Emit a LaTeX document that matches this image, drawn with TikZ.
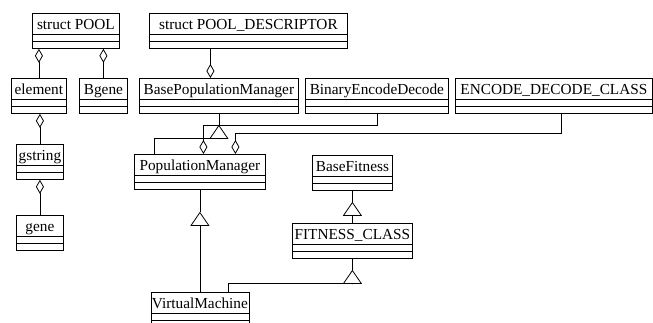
\documentclass[tikz,border=0pt]{standalone}
\usepackage{fontspec}
\setmainfont{Liberation Serif}
\usetikzlibrary{arrows.meta}
\begin{document}
\begin{tikzpicture}[x=1pt,y=-1pt,
  cls/.style={draw, line width=0.8pt, rectangle, inner sep=0pt, anchor=north west,
    minimum width=#1, text height=16pt, text depth=19pt,
    font=\fontsize{15.3}{17}\selectfont,
    path picture={
      \draw[line width=0.8pt] ([yshift=-21pt]path picture bounding box.north west) -- ([yshift=-21pt]path picture bounding box.north east);
      \draw[line width=0.8pt] ([yshift=-28pt]path picture bounding box.north west) -- ([yshift=-28pt]path picture bounding box.north east);}},
  agg/.style={line width=0.8pt, -{Diamond[open, length=14pt, width=8pt]}},
  gen/.style={line width=0.8pt, -{Triangle[open, length=14pt, width=19pt]}},
  link/.style={line width=0.8pt}]
\useasboundingbox (0,0) rectangle (653,322);

% classes
\node[cls=87pt]  (pool)     at (32,13)    {struct POOL};
\node[cls=55pt]  (element)  at (11,78)    {element};
\node[cls=48pt]  (bgene)    at (79,78)    {Bgene};
\node[cls=47pt]  (gstring)  at (16,144)   {gstring};
\node[cls=47pt]  (gene)     at (16,215)   {gene};
\node[cls=198pt] (pooldesc) at (149,13)   {struct POOL\_DESCRIPTOR};
\node[cls=159pt] (bpm)      at (139,78)   {BasePopulationManager};
\node[cls=143pt] (bed)      at (305,78)   {BinaryEncodeDecode};
\node[cls=197pt] (edc)      at (455,78)   {ENCODE\_DECODE\_CLASS};
\node[cls=131pt] (pm)       at (134,154)  {PopulationManager};
\node[cls=80pt]  (bf)       at (312,155)  {BaseFitness};
\node[cls=120pt] (fc)       at (292,223)  {FITNESS\_CLASS};
\node[cls=98pt]  (vm)       at (150.5,292){VirtualMachine};

% aggregations
\draw[agg] (element.north) -- (element.north |- pool.south);
\draw[agg] (bgene.north) -- (bgene.north |- pool.south);
\draw[agg] (gstring.north) -- (gstring.north |- element.south);
\draw[agg] (gene.north) -- (gene.north |- gstring.south);
\draw[agg] ([xshift=-8.5pt]bpm.north |- pooldesc.south) -- ([xshift=-8.5pt]bpm.north);
\draw[agg] (bed.south) |- ([xshift=3.5pt,yshift=29pt]pm.north) -- ([xshift=3.5pt]pm.north);
\draw[agg] ([xshift=7.5pt]edc.south) |- ([xshift=35.5pt,yshift=21pt]pm.north) -- ([xshift=35.5pt]pm.north);

% generalizations
\draw[gen] ([xshift=-45.5pt]pm.north) |- ([yshift=-25pt]bpm.south) -- ([yshift=-11pt]bpm.south);
\draw[link] ([yshift=-11pt]bpm.south) -- (bpm.south);
\draw[gen] (vm.north) -- ([yshift=-22pt]pm.south);
\draw[link] ([yshift=-22pt]pm.south) -- (pm.south);
\draw[gen] (fc.north) -- ([yshift=-11pt]bf.south);
\draw[link] ([yshift=-11pt]bf.south) -- (bf.south);
\draw[gen] ([xshift=28pt]vm.north) |- ([yshift=-25pt]fc.south) -- ([yshift=-11pt]fc.south);
\draw[link] ([yshift=-11pt]fc.south) -- (fc.south);
\end{tikzpicture}
\end{document}
